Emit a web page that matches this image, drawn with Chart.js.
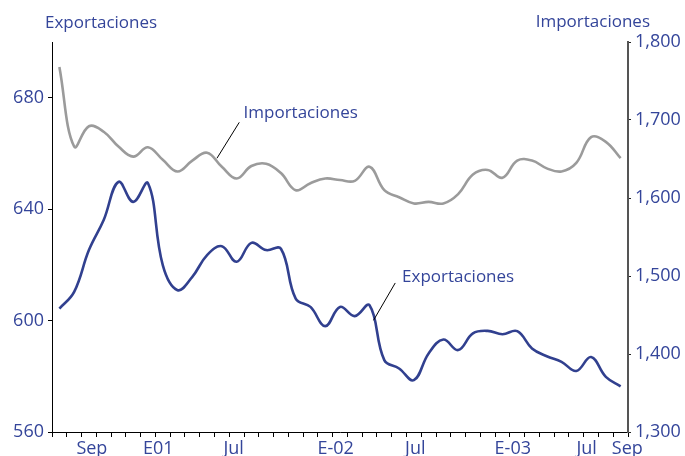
<!DOCTYPE html>
<html>
<head>
<meta charset="utf-8">
<script src="https://cdn.jsdelivr.net/npm/chart.js@4/dist/chart.umd.min.js"></script>
<style>
  body { margin: 0; background: #fff; }
  #wrap { width: 685px; height: 456px; }
</style>
</head>
<body>
<div id="wrap"><canvas id="grafico" width="685" height="456"></canvas></div>
<script>
// Meses de la serie: julio 2000 a septiembre 2003
const meses = [
  'Jul-00', 'Ago-00', 'Sep-00', 'Oct-00', 'Nov-00', 'Dic-00',
  'Ene-01', 'Feb-01', 'Mar-01', 'Abr-01', 'May-01', 'Jun-01',
  'Jul-01', 'Ago-01', 'Sep-01', 'Oct-01', 'Nov-01', 'Dic-01',
  'Ene-02', 'Feb-02', 'Mar-02', 'Abr-02', 'May-02', 'Jun-02',
  'Jul-02', 'Ago-02', 'Sep-02', 'Oct-02', 'Nov-02', 'Dic-02',
  'Ene-03', 'Feb-03', 'Mar-03', 'Abr-03', 'May-03', 'Jun-03',
  'Jul-03', 'Ago-03', 'Sep-03'
];

// Exportaciones (eje izquierdo)
const exportaciones = [
  604.3, 610.3, 625.3, 636.1, 649.8, 642.6, 649.3, 619.9, 610.9, 615.7,
  623.5, 626.7, 621.1, 627.9, 625.3, 625.8, 607.9, 604.9, 598.0, 604.9,
  601.6, 605.5, 585.8, 582.8, 578.6, 588.2, 593.2, 589.4, 595.4, 596.3,
  595.1, 596.2, 590.0, 587.2, 585.2, 581.9, 586.9, 579.8, 576.4
];

// Importaciones (eje derecho)
const importaciones = [
  1768, 1666, 1692, 1685, 1666, 1653, 1665, 1649, 1634, 1648,
  1658, 1640, 1625, 1641, 1644, 1632, 1610, 1619, 1625, 1623,
  1622, 1640, 1610, 1601, 1593, 1595, 1593, 1605, 1630, 1636,
  1626, 1648, 1648, 1638, 1634, 1645, 1678, 1672, 1651
];

// Etiquetas del eje de tiempo y su posicion (en meses desde Jul-00)
const etiquetas = ['Sep', 'E01', 'Jul', 'E-02', 'Jul', 'E-03', 'Jul', 'Sep'];
const posEtiquetas = [2.2, 6.7, 11.8, 18.7, 24.1, 30.7, 35.7, 38.45];

const ticksIzq = [560, 600, 640, 680];

const AZUL = '#34459a';
const LINEA_EXP = '#31408f';
const LINEA_IMP = '#9b9b9b';
const FUENTE = '"Open Sans"';

// Titulos de los ejes y notas con linea guia
const textos = {
  id: 'textos',
  afterDraw(chart) {
    const { ctx, chartArea: a, scales } = chart;
    const px = v => scales.x.getPixelForValue(v);
    ctx.save();
    ctx.fillStyle = AZUL;
    ctx.font = '17px ' + FUENTE;
    ctx.textBaseline = 'alphabetic';
    ctx.textAlign = 'left';
    ctx.fillText('Exportaciones', a.left - 7, 28);
    ctx.textAlign = 'right';
    ctx.fillText('Importaciones', a.right + 22, 27);

    const notas = [
      { texto: 'Importaciones', eje: 'yDer', en: [12.47, 1702], desde: [12.18, 1697], hasta: [10.67, 1651] },
      { texto: 'Exportaciones', eje: 'yIzq', en: [23.2, 613.8], desde: [22.74, 613.5], hasta: [21.27, 600.1] }
    ];
    notas.forEach(n => {
      const ys = scales[n.eje];
      ctx.strokeStyle = '#000';
      ctx.lineWidth = 1;
      ctx.beginPath();
      ctx.moveTo(px(n.desde[0]), ys.getPixelForValue(n.desde[1]));
      ctx.lineTo(px(n.hasta[0]), ys.getPixelForValue(n.hasta[1]));
      ctx.stroke();
      ctx.textAlign = 'left';
      ctx.fillText(n.texto, px(n.en[0]), ys.getPixelForValue(n.en[1]));
    });
    ctx.restore();
  }
};

const serie = arr => arr.map((v, i) => ({ x: i, y: v }));

new Chart(document.getElementById('grafico'), {
  type: 'line',
  data: {
    datasets: [
      {
        label: 'Importaciones',
        data: serie(importaciones),
        borderColor: LINEA_IMP,
        borderWidth: 2.6,
        pointRadius: 0,
        tension: 0.4,
        yAxisID: 'yDer'
      },
      {
        label: 'Exportaciones',
        data: serie(exportaciones),
        borderColor: LINEA_EXP,
        borderWidth: 2.6,
        pointRadius: 0,
        tension: 0.4,
        yAxisID: 'yIzq'
      }
    ]
  },
  options: {
    responsive: false,
    animation: false,
    layout: { padding: { top: 42, left: 0, right: 0, bottom: 0 } },
    plugins: { legend: { display: false }, tooltip: { enabled: false } },
    scales: {
      x: {
        type: 'linear',
        min: -0.5,
        max: meses.length - 0.5,
        afterBuildTicks: s => {
          const t = [];
          for (let i = 0; i <= meses.length; i++) t.push({ value: i - 0.5, texto: '' });
          posEtiquetas.forEach((p, k) => t.push({ value: p, texto: etiquetas[k] }));
          t.sort((a, b) => a.value - b.value);
          s.ticks = t;
        },
        afterFit: s => { s.height = 24; },
        grid: {
          drawOnChartArea: false,
          tickLength: 5,
          tickColor: c => (c.tick && c.tick.texto ? 'rgba(0,0,0,0)' : '#000')
        },
        border: { display: true, color: '#000', width: 1 },
        ticks: {
          autoSkip: false,
          maxRotation: 0,
          minRotation: 0,
          padding: 1,
          color: AZUL,
          font: { family: FUENTE, size: 18 },
          callback: (v, i, t) => t[i].texto
        }
      },
      yIzq: {
        type: 'linear',
        position: 'left',
        min: 560,
        max: 700,
        afterBuildTicks: s => { s.ticks = ticksIzq.map(v => ({ value: v })); },
        afterFit: s => { s.width = 52; },
        grid: { drawOnChartArea: false, tickLength: 4, color: '#000' },
        border: { display: true, color: '#000', width: 1 },
        ticks: { padding: 4, color: AZUL, font: { family: FUENTE, size: 18 } }
      },
      yDer: {
        type: 'linear',
        position: 'right',
        min: 1300,
        max: 1800,
        afterFit: s => { s.width = 57; },
        grid: { drawOnChartArea: false, tickLength: 3, color: '#222' },
        border: { display: true, color: '#555', width: 2 },
        ticks: {
          stepSize: 100,
          padding: 4,
          color: AZUL,
          font: { family: FUENTE, size: 18 },
          callback: v => v.toLocaleString('en-US')
        }
      }
    }
  },
  plugins: [textos]
});
</script>
</body>
</html>
